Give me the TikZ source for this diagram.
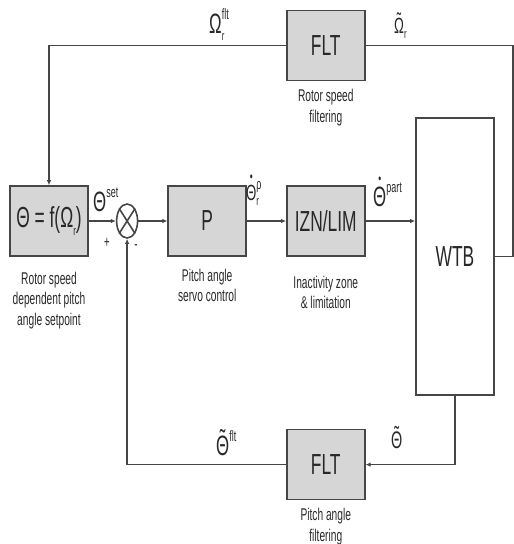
\documentclass[tikz,border=0pt]{standalone}
\usepackage{fontspec}
\setmainfont{Liberation Sans}[FakeStretch=0.6]
\usepackage{xcolor}
\usepackage{tikz}
\usetikzlibrary{arrows.meta, positioning, shapes.geometric}
\definecolor{blockFill}{RGB}{214,214,214}
\definecolor{ink}{RGB}{70,70,70}
\definecolor{textInk}{RGB}{40,40,40}
\newcommand{\sigsup}[1]{\raisebox{0.48em}{\fontsize{15}{15}\selectfont #1}}
\newcommand{\sigsub}[1]{\raisebox{-0.25em}{\fontsize{13}{13}\selectfont #1}}
\newcommand{\tildeon}[1]{\ooalign{#1\cr\hidewidth\raisebox{0.2em}{\char"02DC}\hidewidth\cr}}
\newcommand{\doton}[1]{\ooalign{#1\cr\hidewidth\raisebox{0.82em}{\fontsize{14}{14}\selectfont\char"2022}\hidewidth\cr}}
\tikzset{
  block/.style={
    draw=ink,
    line width=1.6pt,
    fill=blockFill,
    minimum width=78pt,
    minimum height=70pt,
    inner sep=0pt,
    font=\fontsize{29}{29}\selectfont,
    text=textInk
  },
  plant/.style={block, fill=white, minimum height=277pt},
  sumnode/.style={
    draw=ink,
    line width=1.6pt,
    ellipse,
    minimum width=21pt,
    minimum height=34pt,
    inner sep=0pt
  },
  caption/.style={
    align=center,
    font=\fontsize{17}{20.5}\selectfont,
    text=textInk,
    inner sep=0pt
  },
  sig/.style={font=\fontsize{28}{28}\selectfont, text=textInk, inner sep=0pt},
  sign/.style={font=\fontsize{16}{16}\selectfont, text=textInk, inner sep=0pt},
  wire/.style={draw=ink, line width=1.6pt},
  flow/.style={wire, -{Latex[length=5pt,width=4.5pt]}}
}

\begin{document}
\begin{tikzpicture}[x=1pt, y=1pt]
  \useasboundingbox (0,0) rectangle (514,-544);

  \node[block] (setpt) at (49,-221) {Θ = f(Ω\sigsub{r})};
  \node[sumnode, right=27pt of setpt] (sum) {};
  \node[block, right=29pt of sum] (servo) {P};
  \node[block, right=39pt of servo] (izn) {IZN/LIM};
  \node[plant] (wtb) at (455,-256.5) {WTB};
  \node[block, above=104pt of izn] (fltR) {FLT};
  \node[block, below=172pt of izn] (fltP) {FLT};

  \draw[wire] (sum.north west) -- (sum.south east);
  \draw[wire] (sum.north east) -- (sum.south west);

  % captions
  \node[caption, below=8pt of fltR] (capR) {Rotor speed\\filtering};
  \node[caption, below=15pt of setpt] (capSet) {Rotor speed\\dependent pitch\\angle setpoint};
  \node[caption, below=12pt of servo] (capServo) {Pitch angle\\servo control};
  \node[caption, below=19pt of izn] (capIzn) {Inactivity zone\\\& limitation};
  \node[caption, below=8pt of fltP] (capP) {Pitch angle\\filtering};

  % signals
  \node[sig, anchor=base west] (omFlt) at (209,-33) {Ω\rlap{\sigsup{flt}}\sigsub{r}};
  \node[sig, anchor=base west, font=\fontsize{22}{22}\selectfont] (omTil) at (394,-33) {\tildeon{Ω}\sigsub{r}};
  \node[sig, anchor=base west] (thSet) at (93,-211) {Θ\sigsup{set}};
  \node[sign] (plus) at (107,-243) {+};
  \node[sign] (minus) at (136,-247) {-};
  \node[sig, anchor=base west, font=\fontsize{22}{22}\selectfont] (thRef) at (246,-200) {\doton{Θ}\rlap{\sigsup{ρ}}\sigsub{r}};
  \node[sig, anchor=base west] (thPart) at (373,-206) {\doton{Θ}\sigsup{part}};
  \node[sig, anchor=base west] (thFlt) at (216,-455) {\tildeon{Θ}\sigsup{flt}};
  \node[sig, anchor=base west, font=\fontsize{24}{24}\selectfont] (thTil) at (391,-448) {\tildeon{Θ}};

  % forward path
  \draw[flow] (setpt) -- (sum);
  \draw[flow] (sum) -- (servo);
  \draw[flow] (servo) -- (izn);
  \draw[flow] (izn) -- (wtb.west |- izn.east);

  % rotor speed loop
  \draw[wire] (wtb.east) -- ++(18,0) |- (fltR.east);
  \draw[flow] (fltR.west) -| (setpt.north);

  % pitch angle loop
  \draw[flow] (wtb.south) |- (fltP.east);
  \draw[flow] (fltP.west) -| (sum.south);
\end{tikzpicture}
\end{document}
